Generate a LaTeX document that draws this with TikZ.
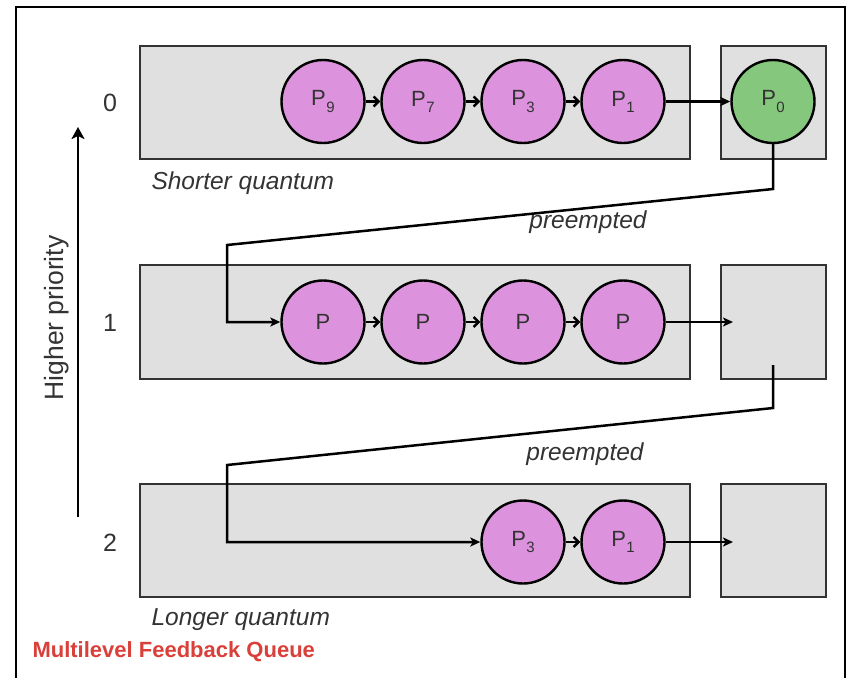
\documentclass[tikz,border=0pt]{standalone}
\usepackage{fontspec}
\setmainfont{Liberation Sans}
\usetikzlibrary{arrows.meta}
\definecolor{qfill}{HTML}{E0E0E0}
\definecolor{proc}{HTML}{DD92DD}
\definecolor{run}{HTML}{86C77E}
\definecolor{titlered}{HTML}{D9403A}
\definecolor{ink}{HTML}{333333}
% process label with a lowered subscript
\newcommand{\procsub}[1]{P\kern0.5pt\raisebox{-6pt}{\fontsize{15}{15}\selectfont #1}}
\begin{document}
\begin{tikzpicture}[x=1pt,y=-1pt,
  queue/.style={draw=ink,line width=2.6pt,fill=qfill,inner sep=0pt},
  procnode/.style={circle,draw=black,line width=2.4pt,fill=proc,minimum size=83pt,inner sep=0pt,
    font=\fontsize{22}{24}\selectfont,text=ink},
  runnode/.style={procnode,fill=run},
  hop/.style={line width=2.5pt,-{Straight Barb[length=5pt,width=10pt,line width=2.4pt]}},
  link/.style={line width=2.5pt,-{Stealth[length=10pt,width=9pt,inset=2.5pt]},line join=miter},
  level/.style={font=\fontsize{25}{28}\selectfont,text=ink},
  note/.style={font=\fontsize{24.5}{27}\selectfont\itshape,text=ink},
]
\useasboundingbox (0,0) rectangle (850,678);
% outer frame (open at the bottom)
\draw[line width=2.6pt] (16,678) -- (16,7) -- (845,7) -- (845,678);

% queues
\node[queue,minimum width=550pt,minimum height=113pt] (q0) at (415,102.5) {};
\node[queue,minimum width=105pt,minimum height=113pt] (c0) at (773.5,102.5) {};
\node[queue,minimum width=550pt,minimum height=114pt] (q1) at (415,322) {};
\node[queue,minimum width=105pt,minimum height=114pt] (c1) at (773.5,322) {};
\node[queue,minimum width=550pt,minimum height=113pt] (q2) at (415,540.5) {};
\node[queue,minimum width=105pt,minimum height=113pt] (c2) at (773.5,540.5) {};

% level 0
\node[procnode] (a9) at (323,101.5) {\procsub{9}};
\node[procnode] (a7) at (423,101.5) {\procsub{7}};
\node[procnode] (a3) at (523,101.5) {\procsub{3}};
\node[procnode] (a1) at (623,101.5) {\procsub{1}};
\node[runnode]  (a0) at (773,101.5) {\procsub{0}};
\draw[hop] (a9) -- (a7);
\draw[hop] (a7) -- (a3);
\draw[hop] (a3) -- (a1);
\draw[link] (a1) -- (a0);

% level 1
\node[procnode] (b1) at (323,322) {P};
\node[procnode] (b2) at (423,322) {P};
\node[procnode] (b3) at (523,322) {P};
\node[procnode] (b4) at (623,322) {P};
\coordinate (e1) at (733,322);
\draw[hop] (b1) -- (b2);
\draw[hop] (b2) -- (b3);
\draw[hop] (b3) -- (b4);
\draw[link] (b4) -- (e1);

% level 2
\node[procnode] (d3) at (523,542) {\procsub{3}};
\node[procnode] (d1) at (623,542) {\procsub{1}};
\coordinate (e2) at (733,542);
\draw[hop] (d3) -- (d1);
\draw[link] (d1) -- (e2);

% demotion paths
\coordinate (t0) at (773,189);
\coordinate (u0) at (227,245);
\coordinate (s1) at (773,365);
\coordinate (t1) at (773,408);
\coordinate (u1) at (227,465);
\draw[link] (a0.south) -- (t0) -- (u0) -- (u0 |- b1) -- (b1.west);
\draw[link] (s1) -- (t1) -- (u1) -- (u1 |- d3) -- (d3.west);
\node[note] (pre0) at (588,222) {preempted};
\node[note] (pre1) at (585,454) {preempted};

% captions
\node[note,anchor=west] (sq) at (148,183) {Shorter quantum};
\node[note,anchor=west] (lq) at (148,620) {Longer quantum};
\node[anchor=west,font=\fontsize{22}{24}\selectfont\bfseries,text=titlered] (title) at (29,652) {Multilevel Feedback Queue};

% priority levels
\node[level] (l0) at (110,103) {0};
\node[level] (l1) at (110,323) {1};
\node[level] (l2) at (110,543) {2};
\coordinate (pb) at (78,517);
\coordinate (pt) at (78,127);
\draw[line width=2.8pt,-{Stealth[length=12pt,width=13pt,inset=3pt]}] (pb) -- (pt);
\node[rotate=90,font=\fontsize{26.5}{28}\selectfont,text=ink] (hp) at (57,318) {Higher priority};
\end{tikzpicture}
\end{document}
